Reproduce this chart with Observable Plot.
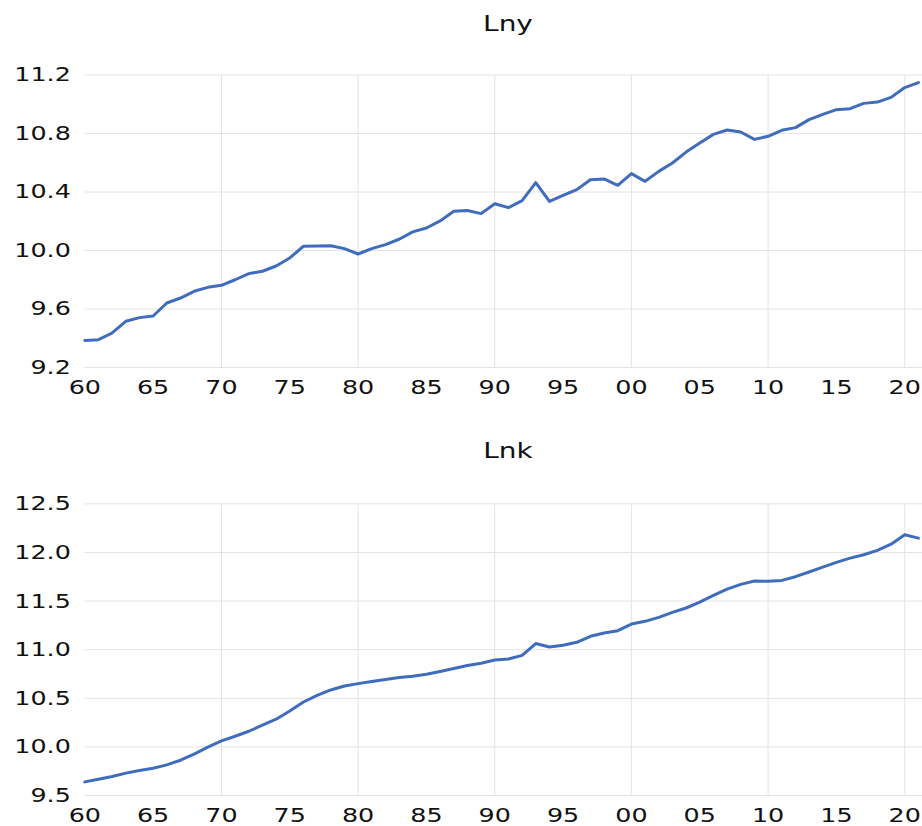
<!DOCTYPE html>
<html><head><meta charset="utf-8">
<script src="https://cdn.jsdelivr.net/npm/d3@7"></script>
<script src="https://cdn.jsdelivr.net/npm/@observablehq/plot@0.6"></script>
<style>
body{margin:0;background:#fff;}
#wrap{position:relative;width:922px;height:826px;overflow:hidden;font-family:"DejaVu Sans";color:#111;background:#fff}
.title{position:absolute;font-size:22px;line-height:22px;white-space:nowrap;transform:translateX(-50%) scaleX(1.27);}
.panel{position:absolute;left:0}
</style></head>
<body><div id="wrap">
<div class="title" style="left:508px;top:13px">Lny</div>
<div class="panel" id="p1" style="top:40px"></div>
<div class="title" style="left:508px;top:440px">Lnk</div>
<div class="panel" id="p2" style="top:470px"></div>
</div>
<script>
const years = [1960,1961,1962,1963,1964,1965,1966,1967,1968,1969,1970,1971,1972,1973,1974,1975,1976,1977,1978,1979,
1980,1981,1982,1983,1984,1985,1986,1987,1988,1989,1990,1991,1992,1993,1994,1995,1996,1997,1998,1999,
2000,2001,2002,2003,2004,2005,2006,2007,2008,2009,2010,2011,2012,2013,2014,2015,2016,2017,2018,2019,2020,2021];

const lny = [9.385,9.39,9.436,9.516,9.541,9.552,9.641,9.675,9.721,9.748,
9.762,9.80,9.842,9.858,9.894,9.949,10.029,10.031,10.033,10.013,
9.976,10.013,10.04,10.077,10.127,10.154,10.202,10.268,10.273,10.252,
10.32,10.293,10.341,10.464,10.336,10.377,10.416,10.484,10.489,10.446,
10.526,10.473,10.541,10.598,10.673,10.735,10.794,10.824,10.81,10.76,
10.781,10.822,10.84,10.895,10.931,10.963,10.97,11.006,11.015,11.047,
11.114,11.148];

const lnk = [9.64,9.668,9.696,9.73,9.757,9.781,9.815,9.863,9.925,9.997,
10.062,10.11,10.161,10.223,10.285,10.37,10.462,10.531,10.586,10.627,
10.651,10.672,10.693,10.713,10.727,10.747,10.775,10.806,10.837,10.86,
10.894,10.904,10.942,11.063,11.028,11.045,11.076,11.138,11.172,11.196,
11.264,11.292,11.333,11.384,11.429,11.49,11.559,11.624,11.672,11.706,
11.703,11.713,11.751,11.799,11.85,11.898,11.942,11.977,12.022,12.086,
12.183,12.148];

const xTicks = [1960,1965,1970,1975,1980,1985,1990,1995,2000,2005,2010,2015,2020];
const xGrid = [1970,1980,1990,2000,2010,2020];
const lnyTicks = [9.2,9.6,10.0,10.4,10.8,11.2];
const lnkTicks = [9.5,10.0,10.5,11.0,11.5,12.0,12.5];

const SX = 1.27;
// stretch tick labels horizontally (after the svg is in the DOM), about their anchor point
function stretch(svg) {
  const groups = svg.querySelectorAll('g[aria-label*="axis"]');
  groups.forEach(g => {
    const isY = (g.getAttribute("aria-label") || "").startsWith("y");
    g.querySelectorAll("text").forEach(t => {
      let b;
      try { b = t.getBBox(); } catch (e) { return; }
      if (!b || (b.width === 0 && b.height === 0)) return;
      const cx = isY ? b.x + b.width : b.x + b.width / 2;
      const cy = b.y + b.height / 2;
      const tr = t.getAttribute("transform") || "";
      t.setAttribute("transform", `${tr} translate(${cx},${cy}) scale(${SX},1) translate(${-cx},${-cy})`);
    });
  });
}

function panel(values, yDomain, yTicks, height, mt, mb) {
  const data = years.map((y, i) => ({year: y, v: values[i]}));
  return Plot.plot({
    width: 922, height, marginLeft: 84.3, marginRight: 0, marginTop: mt, marginBottom: mb,
    style: {fontFamily: "DejaVu Sans", fontSize: "20px", color: "#111", background: "white", overflow: "visible"},
    x: {domain: [1960, 2021.3], ticks: xTicks, tickFormat: d => String(d % 100).padStart(2, "0"), tickSize: 0, tickPadding: 12, label: null},
    y: {domain: yDomain, ticks: yTicks, tickFormat: d3.format(".1f"), tickSize: 0, tickPadding: 14, label: null},
    marks: [
      Plot.ruleY(yTicks, {stroke: "#e4e4e4", strokeWidth: 1}),
      Plot.ruleX(xGrid, {stroke: "#e4e4e4", strokeWidth: 1}),
      Plot.lineY(data, {x: "year", y: "v", stroke: "#3f6cbd", strokeWidth: 3, strokeLinejoin: "round"})
    ]
  });
}

const s1 = panel(lny, [9.2, 11.2], lnyTicks, 370, 34.5, 43);
document.getElementById("p1").appendChild(s1);
stretch(s1);
const s2 = panel(lnk, [9.5, 12.5], lnkTicks, 356, 33.4, 31);
document.getElementById("p2").appendChild(s2);
stretch(s2);
</script>
</body></html>
